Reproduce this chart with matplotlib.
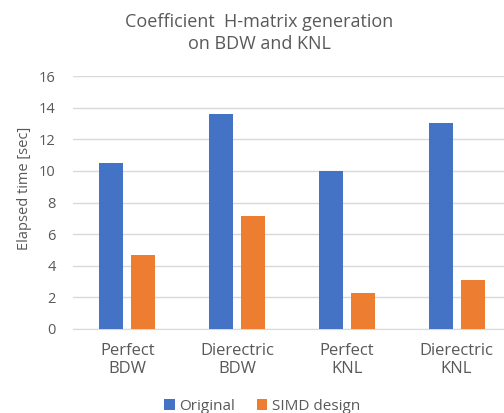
import numpy as np
import matplotlib.pyplot as plt

plt.rcParams['font.family'] = ['Open Sans', 'DejaVu Sans']

# data
categories = ['Perfect\nBDW', 'Dierectric\nBDW', 'Perfect\nKNL', 'Dierectric\nKNL']
original = [10.5, 13.6, 10.0, 13.05]
simd = [4.7, 7.15, 2.3, 3.1]
yticks = [0, 2, 4, 6, 8, 10, 12, 14, 16]

blue = '#4472C4'
orange = '#ED7D31'
grey = '#595959'

fig = plt.figure(figsize=(5.04, 4.13), dpi=100)
# plot area runs a bit past the right edge, as in the reference
ax = fig.add_axes([72.5 / 504, 1 - 329 / 413, 439 / 504, 253 / 413])

x = np.arange(len(categories))
w = 0.219
ax.bar(x - 0.145, original, w, color=blue, label='Original', zorder=3)
ax.bar(x + 0.145, simd, w, color=orange, label='SIMD design', zorder=3)

ax.set_xlim(-0.5, len(categories) - 0.5)
ax.set_ylim(0, 16)
ax.set_yticks(yticks)
ax.set_xticks(x)
ax.set_xticklabels(categories, fontsize=12, color=grey, linespacing=1.2)
ax.tick_params(axis='y', labelsize=10.5, labelcolor=grey, length=0, pad=12)
ax.tick_params(axis='x', length=0, pad=10)
ax.yaxis.grid(True, color='#D9D9D9', linewidth=1, zorder=0)
for s in ['top', 'right', 'left']:
    ax.spines[s].set_visible(False)
ax.spines['bottom'].set_color('#D9D9D9')

# label sits left of the tick numbers, a bit above the axis middle
ax.set_ylabel('Elapsed time [sec]', fontsize=10.5, color=grey)
ax.yaxis.set_label_coords(-(72.5 - 32) / 439, (329 - 188) / 253)

fig.text(259 / 504, 1 - 33 / 413, 'Coefficient  H-matrix generation\non BDW and KNL',
         ha='center', va='center', fontsize=13, color=grey, linespacing=1.35)

fig.legend(loc='center', bbox_to_anchor=(262 / 504, 1 - 406 / 413), ncol=2,
           frameon=False, fontsize=11, labelcolor=grey, handlelength=0.7,
           handleheight=0.7, handletextpad=0.3, columnspacing=1.4)

fig.savefig('out.png', dpi=100)
